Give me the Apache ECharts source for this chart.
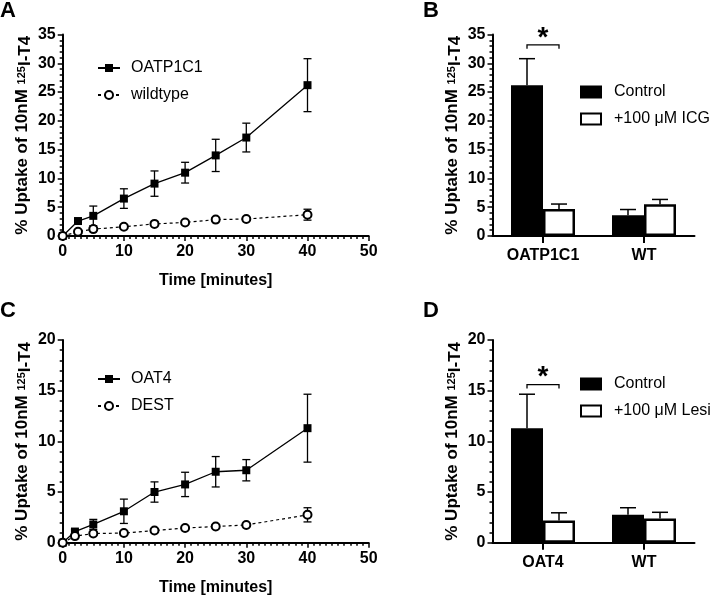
<!DOCTYPE html>
<html>
<head>
<meta charset="utf-8">
<script src="https://cdn.jsdelivr.net/npm/echarts@6/dist/echarts.min.js"></script>
<style>
  html, body { margin: 0; padding: 0; background: #fff; }
  #main { width: 712px; height: 597px; }
</style>
</head>
<body>
<div id="main"></div>
<script>
// panel A - time course OATP1C1 vs wildtype
const timeA = [0, 2.5, 5, 10, 15, 20, 25, 30, 40];
const oatp1c1Mean = [0, 2.6, 3.5, 6.5, 9.1, 11.0, 14.0, 17.1, 26.2];
const oatp1c1Err = [0, 0.3, 1.7, 1.7, 2.2, 1.8, 2.8, 2.5, 4.6];
const wildMean = [0, 0.75, 1.2, 1.6, 2.1, 2.35, 2.85, 2.95, 3.7];
const wildErr = [0, 0.15, 0.2, 0.2, 0.25, 0.2, 0.25, 0.2, 0.95];

// panel B - inhibition by ICG
const catsB = ['OATP1C1', 'WT'];
const ctrlB = [26.2, 3.6];
const ctrlBErr = [4.6, 1.0];
const icgB = [4.7, 5.5];
const icgBErr = [0.85, 0.85];
const sigB = [[0, 33.2]];

// panel C - time course OAT4 vs DEST
const timeC = [0, 2, 5, 10, 15, 20, 25, 30, 40];
const oat4Mean = [0, 1.1, 1.8, 3.1, 5.0, 5.75, 7.0, 7.15, 11.3];
const oat4Err = [0, 0.2, 0.5, 1.2, 1.0, 1.2, 1.5, 1.05, 3.35];
const destMean = [0, 0.65, 0.9, 0.95, 1.2, 1.45, 1.6, 1.75, 2.75];
const destErr = [0, 0.1, 0.1, 0.1, 0.12, 0.12, 0.12, 0.12, 0.7];

// panel D - inhibition by Lesinurad
const catsD = ['OAT4', 'WT'];
const ctrlD = [11.3, 2.75];
const ctrlDErr = [3.35, 0.7];
const lesiD = [2.2, 2.4];
const lesiDErr = [0.75, 0.6];
const sigD = [[0, 15.6]];

const FONT = 'Liberation Sans, Arial, sans-serif';
const BAR_W = 32;

const myChart = echarts.init(document.getElementById('main'));

function pts(xs, ys) { return xs.map((x, i) => [x, ys[i]]); }
function errPts(xs, ys, es) { return xs.map((x, i) => [x, ys[i], es[i]]); }

// two-sided error bars for the time courses
function lineErr(params, api) {
  const x = api.value(0), m = api.value(1), e = api.value(2);
  const t = api.coord([x, m + e]);
  const b = api.coord([x, m - e]);
  const st = { stroke: '#000', lineWidth: 1.3 };
  return { type: 'group', children: [
    { type: 'line', shape: { x1: t[0], y1: t[1], x2: b[0], y2: b[1] }, style: st },
    { type: 'line', shape: { x1: t[0] - 4, y1: t[1], x2: t[0] + 4, y2: t[1] }, style: st },
    { type: 'line', shape: { x1: b[0] - 4, y1: b[1], x2: b[0] + 4, y2: b[1] }, style: st }
  ]};
}

// upward error bars on the bars, offset to the bar centre
function barErr(off) {
  return function (params, api) {
    const c = api.value(0), m = api.value(1), e = api.value(2);
    const t = api.coord([c, m + e]);
    const b = api.coord([c, m]);
    const x = t[0] + off;
    const st = { stroke: '#000', lineWidth: 1.5 };
    return { type: 'group', children: [
      { type: 'line', shape: { x1: x, y1: t[1], x2: x, y2: b[1] }, style: st },
      { type: 'line', shape: { x1: x - 8, y1: t[1], x2: x + 8, y2: t[1] }, style: st }
    ]};
  };
}

function sigRender(params, api) {
  const p = api.coord([api.value(0), api.value(1)]);
  const h = BAR_W / 2;
  return { type: 'group', children: [
    { type: 'polyline', shape: { points: [[p[0] - h, p[1] + 4], [p[0] - h, p[1]], [p[0] + h, p[1]], [p[0] + h, p[1] + 4]] },
      style: { stroke: '#000', lineWidth: 1.3, fill: null } },
    { type: 'text', x: p[0], y: p[1] - 7,
      style: { text: '*', fontSize: 28, fontWeight: 'bold', fontFamily: FONT, fill: '#000', align: 'center', verticalAlign: 'middle' } }
  ]};
}

const yName = '{m|% Uptake of 10nM }{sup|125}{lo|I-T4}';
const nameStyle = {
  fontSize: 17, fontWeight: 'bold', fontFamily: FONT, color: '#000',
  rich: {
    m: { fontSize: 17, fontWeight: 'bold', fontFamily: FONT, color: '#000', lineHeight: 24, verticalAlign: 'middle' },
    sup: { fontSize: 11, fontWeight: 'bold', fontFamily: FONT, color: '#000', lineHeight: 11, verticalAlign: 'middle' },
    lo: { fontSize: 17, fontWeight: 'bold', fontFamily: FONT, color: '#000', lineHeight: 17, verticalAlign: 'bottom' }
  }
};
const labelStyle = { fontSize: 16, fontWeight: 'bold', fontFamily: FONT, color: '#000' };
const axisLine = { show: true, lineStyle: { color: '#000', width: 2 } };

function valueY(idx, max) {
  return {
    type: 'value', gridIndex: idx, min: 0, max: max, interval: 5,
    name: yName, nameLocation: 'middle', nameGap: 28.5, nameRotate: 90, nameTextStyle: nameStyle,
    nameMoveOverlap: false,
    axisLine: axisLine,
    axisTick: { show: true, length: 5, lineStyle: { color: '#000', width: 1.5 } },
    minorTick: { show: true, splitNumber: 5, length: 3, lineStyle: { color: '#000', width: 1.5 } },
    axisLabel: Object.assign({ margin: 7 }, labelStyle),
    splitLine: { show: false }
  };
}
function timeX(idx) {
  return {
    type: 'value', gridIndex: idx, min: 0, max: 50, interval: 10,
    name: 'Time [minutes]', nameLocation: 'middle', nameGap: 37,
    nameTextStyle: { fontSize: 16, fontWeight: 'bold', fontFamily: FONT, color: '#000' },
    axisLine: axisLine,
    axisTick: { show: true, length: 5, lineStyle: { color: '#000', width: 1.5 } },
    minorTick: { show: true, splitNumber: 10, length: 3, lineStyle: { color: '#000', width: 1.5 } },
    axisLabel: Object.assign({ margin: 8 }, labelStyle),
    splitLine: { show: false }
  };
}
function catX(idx, cats) {
  return {
    type: 'category', gridIndex: idx, data: cats,
    axisLine: axisLine,
    axisTick: { show: true, alignWithLabel: true, length: 7, lineStyle: { color: '#000', width: 2 } },
    axisLabel: Object.assign({ margin: 12 }, labelStyle)
  };
}

function solidLine(name, xi, data) {
  return {
    name: name, type: 'line', xAxisIndex: xi, yAxisIndex: xi, data: data, z: 3, clip: false,
    symbol: 'rect', symbolSize: 8,
    itemStyle: { color: '#000' },
    lineStyle: { color: '#000', width: 1.3 }
  };
}
function dashLine(name, xi, data) {
  return {
    name: name, type: 'line', xAxisIndex: xi, yAxisIndex: xi, data: data, z: 3, clip: false,
    symbol: 'circle', symbolSize: 8, showAllSymbol: true,
    itemStyle: { color: '#fff', borderColor: '#000', borderWidth: 2 },
    lineStyle: { color: '#000', width: 1.2, type: [3, 3] }
  };
}
function errSeries(xi, data, fn) {
  return { type: 'custom', xAxisIndex: xi, yAxisIndex: xi, data: data, renderItem: fn, z: 2, silent: true };
}
function bar(name, xi, data, fill) {
  return {
    name: name, type: 'bar', xAxisIndex: xi, yAxisIndex: xi, data: data,
    barWidth: BAR_W, barGap: '0%',
    itemStyle: { color: fill, borderColor: '#000', borderWidth: 2.5 }
  };
}

function lineLegend(names, top) {
  return {
    data: names, orient: 'vertical', left: 97, top: top, padding: 0, itemGap: 11,
    itemWidth: 22, itemHeight: 10, selectedMode: false,
    textStyle: { fontSize: 16, fontFamily: FONT, color: '#000', lineHeight: 16, padding: [0, 0, 0, 6] }
  };
}
function barLegend(names, top) {
  return {
    data: names, orient: 'vertical', left: 580, top: top, padding: 0, itemGap: 11,
    itemWidth: 20, itemHeight: 11, selectedMode: false, icon: 'rect',
    textStyle: { fontSize: 16, fontFamily: FONT, color: '#000', lineHeight: 16, padding: [0, 0, 0, 8] }
  };
}
function letter(t, left, top) {
  return { text: t, left: left, top: top, padding: 0,
    textStyle: { fontSize: 22, fontWeight: 'bold', fontFamily: FONT, color: '#000' } };
}

myChart.setOption({
  animation: false,
  title: [letter('A', 0, 0), letter('B', 423, 0), letter('C', 0, 300), letter('D', 423, 300)],
  legend: [
    lineLegend(['OATP1C1', 'wildtype'], 60),
    barLegend(['Control', '+100 μM ICG'], 84),
    lineLegend(['OAT4', 'DEST'], 371),
    barLegend(['Control', '+100 μM Lesi'], 376)
  ],
  grid: [
    { left: 62.7, top: 34.5, width: 306, height: 201.5 },
    { left: 492.5, top: 34.5, width: 202, height: 201.5 },
    { left: 62.7, top: 340, width: 306, height: 202.7 },
    { left: 492.5, top: 340, width: 202, height: 202.7 }
  ],
  xAxis: [timeX(0), catX(1, catsB), timeX(2), catX(3, catsD)],
  yAxis: [valueY(0, 35), valueY(1, 35), valueY(2, 20), valueY(3, 20)],
  series: [
    errSeries(0, errPts(timeA, oatp1c1Mean, oatp1c1Err), lineErr),
    errSeries(0, errPts(timeA, wildMean, wildErr), lineErr),
    solidLine('OATP1C1', 0, pts(timeA, oatp1c1Mean)),
    dashLine('wildtype', 0, pts(timeA, wildMean)),

    bar('Control', 1, ctrlB, '#000'),
    bar('+100 μM ICG', 1, icgB, '#fff'),
    errSeries(1, errPts([0, 1], ctrlB, ctrlBErr), barErr(-BAR_W / 2)),
    errSeries(1, errPts([0, 1], icgB, icgBErr), barErr(BAR_W / 2)),
    errSeries(1, sigB, sigRender),

    errSeries(2, errPts(timeC, oat4Mean, oat4Err), lineErr),
    errSeries(2, errPts(timeC, destMean, destErr), lineErr),
    solidLine('OAT4', 2, pts(timeC, oat4Mean)),
    dashLine('DEST', 2, pts(timeC, destMean)),

    bar('Control', 3, ctrlD, '#000'),
    bar('+100 μM Lesi', 3, lesiD, '#fff'),
    errSeries(3, errPts([0, 1], ctrlD, ctrlDErr), barErr(-BAR_W / 2)),
    errSeries(3, errPts([0, 1], lesiD, lesiDErr), barErr(BAR_W / 2)),
    errSeries(3, sigD, sigRender)
  ]
});
</script>
</body>
</html>
